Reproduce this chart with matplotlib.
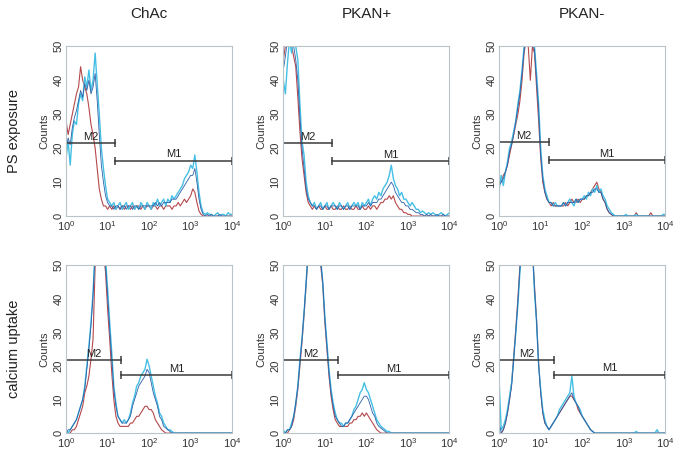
import numpy as np
import matplotlib
matplotlib.use('Agg')
import matplotlib.pyplot as plt

plt.rcParams['font.family'] = ['Liberation Sans', 'DejaVu Sans']
plt.rcParams['mathtext.default'] = 'regular'

# channel positions (log10 of fluorescence), 0.05 decade bins from 10^0 to 10^4
log_channels = np.arange(81) * 0.05
channels = 10 ** log_channels

columns = ['ChAc', 'PKAN+', 'PKAN-']
rows = ['PS exposure', 'calcium uptake']
x_ticks = [1, 10, 100, 1000, 10000]
x_tick_labels = ['$10^{0}$', '$10^{1}$', '$10^{2}$', '$10^{3}$', '$10^{4}$']
y_ticks = [0, 10, 20, 30, 40, 50]

# ---- PS exposure counts ----
chac_ps_red = [28, 24, 27, 30, 33, 36, 38, 44, 40, 38,
               36, 32, 27, 24, 20, 14, 8, 5, 3, 3,
               2, 3, 2, 3, 2, 3, 2, 3, 2, 3,
               3, 2, 3, 2, 3, 3, 2, 3, 2, 3,
               3, 2, 3, 3, 2, 3, 3, 2, 3, 3,
               3, 2, 3, 3, 4, 3, 4, 5, 4, 5,
               6, 8, 7, 4, 1.5, 0.5, 0, 0, 0, 0,
               0, 0, 0, 0, 0, 0, 0, 0, 0, 0,
               0]
chac_ps_cyan = [17, 22, 15, 24, 28, 27, 33, 36, 34, 41,
                38, 43, 37, 40, 48, 39, 30, 20, 14, 9,
                5, 4, 3, 4, 2, 3, 4, 2, 3, 4,
                2, 3, 4, 2, 3, 2, 4, 3, 2, 4,
                3, 2, 4, 3, 5, 3, 4, 5, 3, 5,
                4, 6, 5, 6, 7, 8, 9, 11, 12, 13,
                15, 14, 18, 13, 7, 3, 1, 0.5, 1, 0.5,
                0.5, 0, 0.5, 1, 0, 0.5, 0.5, 0, 1, 0.5,
                0.5]
chac_ps_blue = [20, 23, 21, 26, 29, 31, 34, 37, 35, 39,
                37, 40, 36, 38, 42, 34, 24, 15, 10, 6,
                4, 3, 3, 2, 3, 3, 2, 3, 3, 2,
                3, 3, 2, 3, 3, 2, 3, 3, 3, 3,
                3, 3, 3, 4, 3, 4, 3, 4, 4, 4,
                4, 5, 5, 5, 6, 7, 8, 9, 10, 11,
                12, 12, 14, 10, 5, 2, 0.5, 0, 0.5, 0,
                0.5, 0, 0, 0, 0.5, 0, 0, 0, 0, 0,
                0]

pkanp_ps_red = [46, 50, 54, 51, 50, 47, 44, 35, 25, 17,
                12, 7, 4, 3, 2, 3, 2, 3, 2, 2,
                3, 2, 2, 3, 2, 2, 3, 2, 2, 3,
                2, 2, 3, 2, 2, 3, 2, 2, 3, 2,
                2, 3, 2, 3, 3, 2, 3, 4, 4, 5,
                5, 6, 5, 6, 4, 3, 2, 2, 1, 1,
                0.5, 0.5, 0, 0, 0, 0, 0, 0, 0, 0,
                0, 0, 0, 0, 0, 0, 0, 0, 0, 0,
                0]
pkanp_ps_cyan = [40, 36, 45, 52, 48, 55, 50, 46, 33, 22,
                 18, 10, 6, 4, 3, 4, 2, 3, 4, 2,
                 3, 4, 2, 3, 4, 3, 2, 4, 3, 2,
                 3, 4, 2, 3, 4, 3, 4, 2, 4, 3,
                 4, 5, 3, 5, 6, 5, 7, 6, 8, 9,
                 10, 12, 15, 11, 9, 8, 6, 7, 5, 5,
                 4, 3, 4, 3, 2, 2, 1, 1.5, 1, 0.5,
                 1, 0.5, 1, 0.5, 0, 0.5, 1, 0.5, 0, 0.5,
                 1]
pkanp_ps_blue = [43, 47, 52, 53, 51, 50, 46, 40, 29, 20,
                 14, 8, 5, 4, 3, 3, 2, 3, 3, 2,
                 3, 3, 2, 3, 3, 3, 2, 3, 3, 2,
                 3, 3, 2, 3, 3, 3, 3, 2, 3, 3,
                 3, 4, 3, 4, 4, 4, 5, 5, 6, 7,
                 8, 9, 10, 9, 7, 6, 5, 4, 4, 3,
                 3, 2, 2, 1.5, 1, 1, 0.5, 0.5, 0, 0.5,
                 0, 0.5, 0, 0, 0.5, 0, 0, 0.5, 0, 0,
                 0]

pkanm_ps_red = [11, 10, 12, 13, 15, 18, 21, 24, 27, 30,
                34, 40, 48, 52, 50, 40, 50, 48, 38, 28,
                17, 10, 7, 5, 4, 3, 4, 3, 3, 3,
                3, 3, 4, 3, 4, 5, 4, 4, 5, 4,
                5, 5, 6, 6, 7, 8, 9, 10, 8, 7,
                5, 4, 2, 1, 0.5, 0, 0, 0, 0, 0,
                0, 0, 0, 0, 0, 0, 1, 0, 0, 0,
                0, 0, 0, 1, 0, 0, 0, 0, 0, 0,
                0]
pkanm_ps_cyan = [8, 12, 9, 13, 16, 20, 22, 25, 28, 33,
                 37, 43, 50, 53, 51, 54, 52, 50, 42, 33,
                 20, 12, 8, 6, 4, 4, 3, 4, 3, 3,
                 3, 4, 3, 4, 5, 4, 3, 5, 4, 5,
                 5, 6, 5, 7, 6, 8, 7, 9, 7, 8,
                 6, 5, 3, 2, 1, 0.5, 0, 0, 0, 0,
                 0, 0.5, 0, 0, 0, 0, 0.5, 0, 0, 0,
                 0, 0, 0, 0, 0, 0, 0, 0, 0, 0.5,
                 0.5]
pkanm_ps_blue = [9, 10, 11, 13, 15, 19, 21, 24, 28, 32,
                 36, 42, 49, 52, 51, 52, 51, 49, 40, 31,
                 18, 11, 7, 5, 4, 4, 3, 3, 3, 3,
                 3, 4, 3, 4, 4, 4, 4, 5, 4, 5,
                 5, 5, 6, 6, 7, 7, 8, 8, 7, 7,
                 5, 4, 2, 1, 0.5, 0, 0, 0, 0, 0,
                 0, 0, 0, 0, 0, 0, 0, 0, 0, 0,
                 0, 0, 0, 0, 0, 0, 0, 0, 0, 0,
                 0]

# ---- calcium uptake counts ----
chac_ca_red = [0, 0, 0, 1, 1, 2, 4, 6, 8, 12,
               14, 17, 22, 28, 50, 56, 55, 52, 54, 48,
               37, 28, 18, 10, 5, 3, 2, 2, 2, 2,
               2, 3, 3, 4, 5, 5, 6, 7, 8, 8,
               7, 7, 6, 4, 3, 2, 1, 0.5, 0, 0,
               0, 0, 0, 0, 0, 0, 0, 0, 0, 0,
               0, 0, 0, 0, 0, 0, 0, 0, 0, 0,
               0, 0, 0, 0, 0, 0, 0, 0, 0, 0,
               0]
chac_ca_cyan = [1, 0, 1, 2, 3, 4, 6, 8, 10, 14,
                20, 26, 33, 42, 55, 58, 54, 57, 56, 52,
                43, 33, 24, 14, 9, 5, 4, 3, 4, 3,
                4, 6, 9, 11, 14, 15, 17, 18, 19, 22,
                20, 17, 14, 11, 9, 6, 5, 3, 2, 1,
                1, 0.5, 0, 0, 0, 0, 0, 0, 0, 0,
                0, 0, 0, 0, 0, 0, 0, 0, 0, 0,
                0, 0, 0, 0, 0, 0, 0, 0, 0, 0,
                0]
chac_ca_blue = [0, 1, 1, 2, 3, 4, 6, 8, 10, 13,
                19, 25, 32, 41, 54, 57, 55, 56, 55, 50,
                41, 31, 22, 13, 8, 5, 4, 3, 3, 3,
                4, 5, 8, 10, 12, 14, 15, 16, 17, 19,
                18, 15, 12, 10, 8, 5, 4, 2, 1.5, 1,
                0.5, 0, 0, 0, 0, 0, 0, 0, 0, 0,
                0, 0, 0, 0, 0, 0, 0, 0, 0, 0,
                0, 0, 0, 0, 0, 0, 0, 0, 0, 0,
                0]

pkanp_ca_red = [0, 0, 0, 1, 2, 4, 8, 13, 20, 27,
                35, 44, 54, 55, 56, 55, 56, 53, 50, 44,
                33, 25, 17, 11, 7, 4, 3, 2, 2, 2,
                2, 2, 3, 3, 4, 4, 5, 5, 6, 5,
                6, 5, 4, 3, 2, 1, 0.5, 0, 0, 0,
                0, 0, 0, 0, 0, 0, 0, 0, 0, 0,
                0, 0, 0, 0, 0, 0, 0, 0, 0, 0,
                0, 0, 0, 0, 0, 0, 0, 0, 0, 0,
                0]
pkanp_ca_cyan = [1, 0, 1, 1, 3, 5, 9, 14, 22, 28,
                 36, 45, 55, 56, 58, 55, 57, 54, 52, 45,
                 35, 27, 19, 13, 9, 6, 4, 3, 3, 2,
                 3, 3, 4, 5, 7, 8, 10, 12, 13, 15,
                 13, 12, 10, 8, 6, 4, 3, 2, 1.5, 1,
                 0.5, 0.5, 0, 0, 0, 0, 0, 0, 0, 0,
                 0, 0, 0, 0, 0, 0, 0, 0, 0, 0,
                 0, 0, 0, 0, 0, 0, 0, 0, 0, 0,
                 0]
pkanp_ca_blue = [0, 0, 1, 1, 2, 5, 9, 14, 21, 28,
                 36, 45, 54, 56, 57, 55, 56, 54, 51, 45,
                 34, 26, 18, 12, 8, 5, 4, 3, 2, 2,
                 3, 3, 4, 5, 6, 7, 8, 9, 10, 11,
                 11, 10, 8, 6, 5, 3, 2, 1.5, 1, 0.5,
                 0, 0, 0, 0, 0, 0, 0, 0, 0, 0,
                 0, 0, 0, 0, 0, 0, 0, 0, 0, 0,
                 0, 0, 0, 0, 0, 0, 0, 0, 0, 0,
                 0]

pkanm_ca_red = [0, 0, 1, 3, 6, 10, 15, 23, 31, 40,
                50, 56, 56, 57, 56, 55, 54, 44, 34, 21,
                12, 6, 3, 2, 1, 2, 3, 4, 5, 6,
                7, 8, 9, 10, 11, 11, 10, 9, 7, 6,
                5, 4, 3, 2, 1, 0.5, 0, 0, 0, 0,
                0, 0, 0, 0, 0, 0, 0, 0, 0, 0,
                0, 0, 0, 0, 0, 0, 0, 0, 0, 0,
                0, 0, 0, 0, 0, 0, 0, 0, 0, 0,
                0]
pkanm_ca_cyan = [15, 1, 2, 4, 7, 11, 15, 22, 30, 38,
                 48, 55, 57, 56, 58, 55, 56, 42, 33, 20,
                 13, 7, 4, 2, 1, 2, 3, 4, 5, 7,
                 8, 9, 10, 11, 12, 17, 11, 9, 8, 7,
                 5, 4, 3, 2, 1, 0.5, 0, 0, 0, 0,
                 0, 0, 0, 0, 0, 0, 0, 0, 0, 0,
                 0, 0, 0, 0, 0, 0, 0.5, 0, 0, 0,
                 0, 0, 0, 0, 0, 0, 1, 0, 0, 0,
                 0]
pkanm_ca_blue = [3, 0, 1, 3, 6, 10, 14, 22, 30, 39,
                 49, 55, 57, 56, 57, 55, 55, 43, 33, 20,
                 12, 6, 3, 2, 1, 2, 3, 4, 5, 6,
                 7, 8, 9, 10, 11, 12, 10, 9, 8, 6,
                 5, 4, 3, 2, 1, 0.5, 0, 0, 0, 0,
                 0, 0, 0, 0, 0, 0, 0, 0, 0, 0,
                 0, 0, 0, 0, 0, 0, 0, 0, 0, 0,
                 0, 0, 0, 0, 0, 0, 0, 0, 0, 0,
                 0]

# marker gates: end of M2 / start of M1 (channel), and bar heights (counts)
gate_split = [[15, 15, 15.5], [21, 21, 21]]
m2_level = [[21.5, 21.5, 21.7], [21.7, 21.7, 21.7]]
m1_level = [[16.3, 16.2, 16.5], [17.3, 17.3, 17.4]]

panels = [
    [(chac_ps_red, chac_ps_cyan, chac_ps_blue),
     (pkanp_ps_red, pkanp_ps_cyan, pkanp_ps_blue),
     (pkanm_ps_red, pkanm_ps_cyan, pkanm_ps_blue)],
    [(chac_ca_red, chac_ca_cyan, chac_ca_blue),
     (pkanp_ca_red, pkanp_ca_cyan, pkanp_ca_blue),
     (pkanm_ca_red, pkanm_ca_cyan, pkanm_ca_blue)],
]

col_left = [0.097, 0.416, 0.733]
col_width = 0.244
row_bottom = [0.524, 0.046]
row_height = [0.374, 0.370]

fig = plt.figure(figsize=(6.81, 4.54), dpi=100)

for r in range(2):
    for c in range(3):
        ax = fig.add_axes([col_left[c], row_bottom[r], col_width, row_height[r]])
        red, cyan, blue = panels[r][c]
        ax.plot(channels, red, color='#b5484c', lw=0.8)
        ax.plot(channels, cyan, color='#45bfe3', lw=1.0)
        ax.plot(channels, blue, color='#2c5fa8', lw=0.6)

        # M2 / M1 gate bars
        g = gate_split[r][c]
        ax.plot([1, g], [m2_level[r][c]] * 2, color='#3a3a3a', lw=1.1,
                marker='|', markersize=6, mew=1.1)
        ax.plot([g, 10000], [m1_level[r][c]] * 2, color='#3a3a3a', lw=1.1,
                marker='|', markersize=6, mew=1.1)
        ax.text(np.sqrt(g), m2_level[r][c] + 0.4, 'M2', ha='center', va='bottom',
                fontsize=8, color='#222222')
        ax.text(np.sqrt(g * 10000), m1_level[r][c] + 0.4, 'M1', ha='center',
                va='bottom', fontsize=8, color='#222222')

        ax.set_xscale('log')
        ax.set_xlim(1, 10000)
        ax.set_ylim(0, 50)
        ax.set_xticks(x_ticks)
        ax.set_xticklabels(x_tick_labels)
        ax.xaxis.set_minor_locator(matplotlib.ticker.NullLocator())
        ax.set_yticks(y_ticks)
        ax.set_yticklabels([str(v) for v in y_ticks], rotation=90, va='center')
        ax.tick_params(length=0, labelsize=8, colors='#333333', pad=2)
        ax.set_ylabel('Counts', fontsize=8, color='#333333', labelpad=3)
        for sp in ax.spines.values():
            sp.set_color('#b8c4c8')
            sp.set_linewidth(0.8)

for c, name in enumerate(columns):
    fig.text(col_left[c] + col_width / 2, 0.969, name, ha='center', va='center',
             fontsize=11, color='#222222')
for r, name in enumerate(rows):
    fig.text(0.02, row_bottom[r] + row_height[r] / 2, name, rotation=90,
             ha='center', va='center', fontsize=10.5, color='#222222')

fig.savefig('out.png', dpi=100)
